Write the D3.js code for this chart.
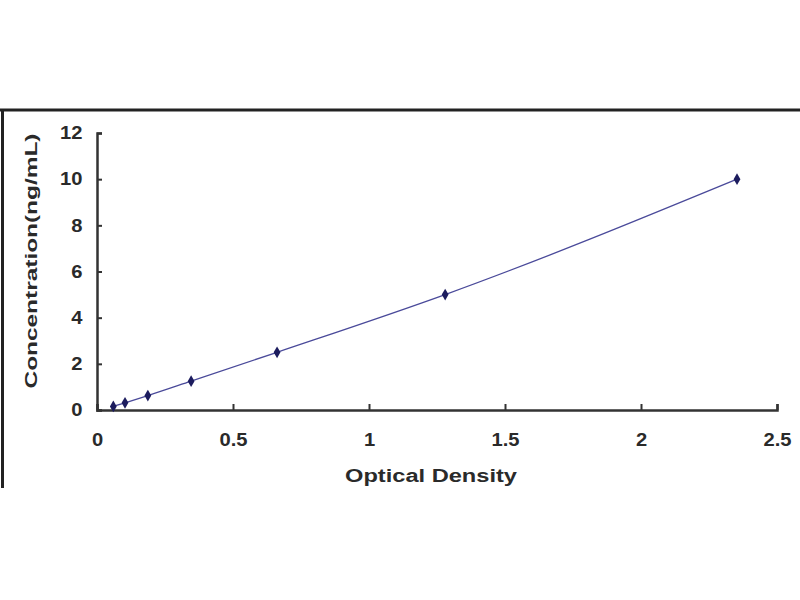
<!DOCTYPE html>
<html>
<head>
<meta charset="utf-8">
<script src="https://cdn.jsdelivr.net/npm/d3@7"></script>
<style>
  body { margin: 0; background: #fff; }
  text { font-family: "Liberation Sans", Arial, sans-serif; font-weight: bold; fill: #2a2a2a; }
</style>
</head>
<body>
<div id="canvas"></div>
<script>
// standard curve values
var od = [0.06, 0.103, 0.187, 0.346, 0.662, 1.28, 2.353];
var conc = [0.156, 0.3125, 0.625, 1.25, 2.5, 5, 10];
var xTicks = [0, 0.5, 1, 1.5, 2, 2.5];
var yTicks = [0, 2, 4, 6, 8, 10, 12];
var xTitle = "Optical Density";
var yTitle = "Concentration(ng/mL)";

var width = 800, height = 600;
var svg = d3.select("#canvas").append("svg").attr("width", width).attr("height", height);

// outer frame (only top and left edges show)
svg.append("line").attr("x1", 0).attr("x2", width).attr("y1", 110).attr("y2", 110)
	.attr("stroke", "#222").attr("stroke-width", 3);
svg.append("line").attr("x1", 2.5).attr("x2", 2.5).attr("y1", 110).attr("y2", 488)
	.attr("stroke", "#222").attr("stroke-width", 3);

var x = d3.scaleLinear().domain([0, 2.5]).range([97, 777]);
var y = d3.scaleLinear().domain([0, 12]).range([410, 133]);

var axisColor = "#333";

// x axis, ticks pointing inward
var gx = svg.append("g").attr("transform", "translate(0,410)")
	.call(d3.axisBottom(x).tickValues(xTicks).tickSize(-6).tickPadding(25)
		.tickFormat(function(d) { return d3.format("")(d); }));
gx.select(".domain").attr("stroke", axisColor).attr("stroke-width", 2.5);
gx.selectAll(".tick line").attr("stroke", axisColor).attr("stroke-width", 2);
gx.selectAll(".tick text").style("font-size", "18px").attr("fill", "#2a2a2a")
	.attr("dy", "0.62em")
	.attr("transform", "scale(1.12,1)")
	.style("font-family", "'Liberation Sans', Arial, sans-serif").style("font-weight", "bold");

// y axis
var gy = svg.append("g").attr("transform", "translate(97,0)")
	.call(d3.axisLeft(y).tickValues(yTicks).tickSize(-5).tickPadding(13));
gy.select(".domain").attr("stroke", axisColor).attr("stroke-width", 2.5);
gy.selectAll(".tick line").attr("stroke", axisColor).attr("stroke-width", 2);
gy.selectAll(".tick text").style("font-size", "18px").attr("fill", "#2a2a2a")
	.attr("transform", "scale(1.12,1)")
	.style("font-family", "'Liberation Sans', Arial, sans-serif").style("font-weight", "bold");

// axis titles
svg.append("text").text(xTitle)
	.attr("x", 431).attr("y", 482)
	.attr("text-anchor", "middle")
	.attr("textLength", 172)
	.attr("lengthAdjust", "spacingAndGlyphs")
	.style("font-size", "18px");

svg.append("text").text(yTitle)
	.attr("transform", "translate(37,261) rotate(-90)")
	.attr("text-anchor", "middle")
	.attr("textLength", 255)
	.attr("lengthAdjust", "spacingAndGlyphs")
	.style("font-size", "17px");

// fitted curve
var pts = od.map(function(d, i) { return [d, conc[i]]; });
var line = d3.line()
	.x(function(d) { return x(d[0]); })
	.y(function(d) { return y(d[1]); })
	.curve(d3.curveMonotoneX);

svg.append("path").datum(pts)
	.attr("d", line)
	.attr("fill", "none")
	.attr("stroke", "#4a4a9a")
	.attr("stroke-width", 1.3);

// diamond markers
svg.selectAll(".pt").data(pts).enter().append("path")
	.attr("class", "pt")
	.attr("d", d3.symbol().type(d3.symbolDiamond).size(40))
	.attr("transform", function(d) { return "translate(" + x(d[0]) + "," + y(d[1]) + ")"; })
	.attr("fill", "#1c1c5e");
</script>
</body>
</html>
